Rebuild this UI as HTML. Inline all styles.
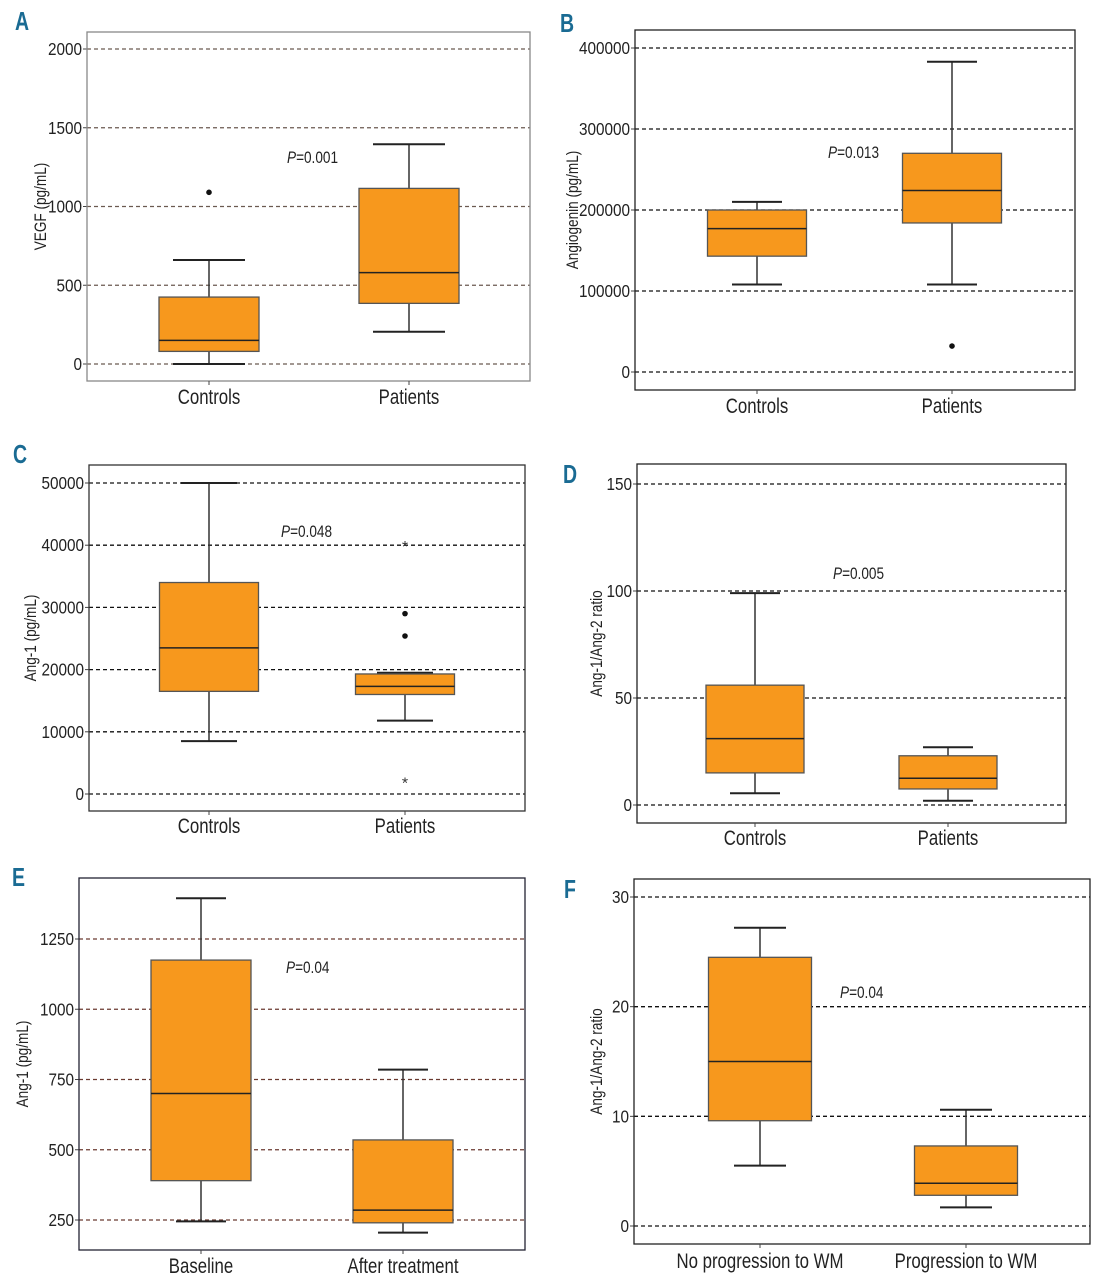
<!DOCTYPE html>
<html><head><meta charset="utf-8">
<style>
body{margin:0;background:#fff;width:1101px;height:1280px;overflow:hidden}
svg text{font-family:"Liberation Sans",sans-serif}
</style></head>
<body>
<svg id="fig" width="1101" height="1280" viewBox="0 0 1101 1280" xmlns="http://www.w3.org/2000/svg"></svg>
<script>
// Panel data
const panelLetters = ["A","B","C","D","E","F"];
const yTitles = ["VEGF (pg/mL)","Angiogenin (pg/mL)","Ang-1 (pg/mL)","Ang-1/Ang-2 ratio","Ang-1 (pg/mL)","Ang-1/Ang-2 ratio"];
const pValues = ["=0.001","=0.013","=0.048","=0.005","=0.04","=0.04"];
const categoriesA = ["Controls","Patients"];
const categoriesB = ["Controls","Patients"];
const categoriesC = ["Controls","Patients"];
const categoriesD = ["Controls","Patients"];
const categoriesE = ["Baseline","After treatment"];
const categoriesF = ["No progression to WM","Progression to WM"];
const ticksA = [0,500,1000,1500,2000];
const ticksB = [0,100000,200000,300000,400000];
const ticksC = [0,10000,20000,30000,40000,50000];
const ticksD = [0,50,100,150];
const ticksE = [250,500,750,1000,1250];
const ticksF = [0,10,20,30];
// boxes: [low, q1, median, q3, high]
const boxesA = [[0,80,150,425,660],[205,385,580,1115,1395]];
const boxesB = [[108000,143000,177000,200000,210000],[108000,184000,224000,270000,383000]];
const boxesC = [[8500,16500,23500,34000,50000],[11800,16000,17300,19300,19500]];
const boxesD = [[5.5,15,31,56,99],[2,7.5,12.5,23,27]];
const boxesE = [[245,390,700,1175,1395],[205,240,285,535,785]];
const boxesF = [[5.5,9.6,15,24.5,27.2],[1.7,2.8,3.9,7.3,10.6]];
const outliersA = [[1090],[]];
const outliersB = [[],[32000]];
const outliersC = [[],[29000,25400]];
const outliersD = [[],[]];
const outliersE = [[],[]];
const outliersF = [[],[]];
const extremesC = [[],[40000,2000]];

const NS="http://www.w3.org/2000/svg";
const svg=document.getElementById('fig');
function mk(tag,attrs,parent){const e=document.createElementNS(NS,tag);for(const k in attrs)e.setAttribute(k,attrs[k]);(parent||svg).appendChild(e);return e;}
function txt(x,y,s,size,anchor,parent,rot,sx){
 sx=sx||0.8;
 const t=mk('text',{x:0,y:0,'font-size':size,'text-anchor':anchor||'start',fill:'#222',
  transform:`translate(${x} ${y})${rot?' rotate(-90)':''} scale(${sx} 1)`},parent);
 t.textContent=s;return t;
}

const layouts=[
 {f:[87,32,530,381],y0:[0,364],y1:[2000,49],cx:[209,409],bw:100,cap:36,lx:15,ly:30,px:287,py:163,tx:46,xl:404,grid:"#6b5a50",frame:"#888"},
 {f:[635,30,1075,390],y0:[0,372],y1:[400000,48],cx:[757,952],bw:99,cap:25,lx:560,ly:32,px:828,py:158,tx:578,xl:413,grid:"#111",frame:"#222"},
 {f:[89,465,525,811],y0:[0,794],y1:[50000,483],cx:[209,405],bw:99,cap:28,lx:13,ly:463,px:281,py:537,tx:36,xl:833,grid:"#111",frame:"#333"},
 {f:[637,464,1066,823],y0:[0,805],y1:[150,484],cx:[755,948],bw:98,cap:25,lx:563,ly:483,px:833,py:579,tx:602,xl:845,grid:"#111",frame:"#222"},
 {f:[79,878,525,1250],y0:[250,1220],y1:[1250,939],cx:[201,403],bw:100,cap:25,lx:12,ly:886,px:286,py:973,tx:28,xl:1273,grid:"#6b3a30",frame:"#223"},
 {f:[634,879,1090,1244],y0:[0,1226],y1:[30,897],cx:[760,966],bw:103,cap:26,lx:564,ly:898,px:840,py:998,tx:602,xl:1268,grid:"#111",frame:"#222"}
];
const cats=[categoriesA,categoriesB,categoriesC,categoriesD,categoriesE,categoriesF];
const ticks=[ticksA,ticksB,ticksC,ticksD,ticksE,ticksF];
const boxes=[boxesA,boxesB,boxesC,boxesD,boxesE,boxesF];
const outs=[outliersA,outliersB,outliersC,outliersD,outliersE,outliersF];
const extremes=[null,null,extremesC,null,null,null];

layouts.forEach((L,p)=>{
 const g=mk('g',{});
 
 
 const ys=v=>L.y0[1]+(v-L.y0[0])*(L.y1[1]-L.y0[1])/(L.y1[0]-L.y0[0]);
 const [x0,y0,x1,y1]=L.f;
 const lab=txt(L.lx,L.ly,panelLetters[p],26,'start',g,false,0.75);
 lab.setAttribute('font-weight','bold');lab.setAttribute('fill','#1a6b93');
 
 
 ticks[p].forEach(t=>{
  const y=ys(t);
  const gl=mk('line',{x1:x0,x2:x1,y1:y,y2:y,stroke:L.grid,'stroke-width':1.3,'stroke-dasharray':'4,3'},g);
  
  
  mk('line',{x1:x0-4,x2:x0,y1:y,y2:y,stroke:'#444'},g);
  const tl=txt(x0-5,y+6,String(t),18,'end',g,false,0.85);
  
  
 });
 const fr=mk('rect',{x:x0,y:y0,width:x1-x0,height:y1-y0,fill:'none',stroke:L.frame,'stroke-width':1.3},g);
 
 
 const yt=txt(L.tx,(y0+y1)/2,yTitles[p],17,'middle',g,true);
 
 
 const pt=mk('text',{x:0,y:0,'font-size':17,fill:'#222',transform:`translate(${L.px} ${L.py}) scale(0.8 1)`},g);
 pt.innerHTML='<tspan font-style="italic">P</tspan>'+pValues[p];
 
 
 boxes[p].forEach((b,i)=>{
  const cx=L.cx[i],hw=L.bw/2;
  const bg=mk('g',{},g);
  
  
  mk('line',{x1:cx,x2:cx,y1:ys(b[0]),y2:ys(b[4]),stroke:'#333','stroke-width':1.5},bg);
  mk('line',{x1:cx-L.cap,x2:cx+L.cap,y1:ys(b[0]),y2:ys(b[0]),stroke:'#222','stroke-width':2},bg);
  mk('line',{x1:cx-L.cap,x2:cx+L.cap,y1:ys(b[4]),y2:ys(b[4]),stroke:'#222','stroke-width':2},bg);
  mk('rect',{x:cx-hw,y:ys(b[3]),width:L.bw,height:ys(b[1])-ys(b[3]),fill:'#f7981d',stroke:'#555','stroke-width':1.3},bg);
  mk('line',{x1:cx-hw,x2:cx+hw,y1:ys(b[2]),y2:ys(b[2]),stroke:'#222','stroke-width':1.5},bg);
  outs[p][i].forEach(o=>{
   const c=mk('circle',{cx:cx,cy:ys(o),r:2.8,fill:'#111'},g);
   
   
  });
  if(extremes[p]) extremes[p][i].forEach(o=>{
   const s=mk('text',{x:cx,y:ys(o)+7,'font-size':16,'text-anchor':'middle',fill:'#333'},g);
   s.textContent='*';
   
   
  });
  mk('line',{x1:cx,x2:cx,y1:y1,y2:y1+4,stroke:'#444'},g);
  const xl=txt(cx,L.xl,cats[p][i],21,'middle',g);
  
  
 });
});
</script>
</body></html>
